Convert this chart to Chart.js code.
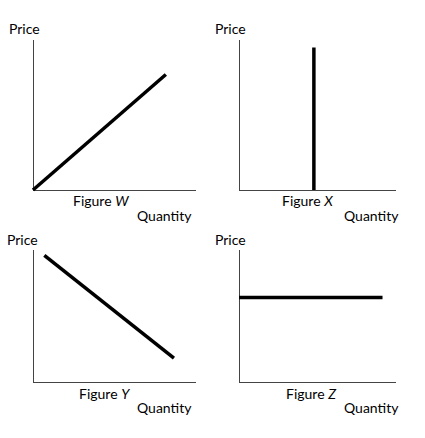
<!DOCTYPE html>
<html><head>
<script src="https://cdn.jsdelivr.net/npm/chart.js@4"></script>
<style>
body{margin:0;background:#fff;width:425px;height:438px;position:relative;font-family:Lato,"Open Sans",sans-serif;color:#000}
.c{position:absolute}
.t{position:absolute;font-size:14px;white-space:nowrap}
</style></head><body>
<div class="t" style="left:9px;top:20px">Price</div>
<div class="t" style="left:215px;top:20px">Price</div>
<div class="t" style="left:7px;top:231px">Price</div>
<div class="t" style="left:215px;top:231px">Price</div>
<div class="t" style="left:73px;top:192px">Figure <i>W</i></div>
<div class="t" style="left:282px;top:192px">Figure <i>X</i></div>
<div class="t" style="left:79px;top:385px">Figure <i>Y</i></div>
<div class="t" style="left:286px;top:385px">Figure <i>Z</i></div>
<div class="t" style="left:137px;top:207px">Quantity</div>
<div class="t" style="left:344px;top:207px">Quantity</div>
<div class="t" style="left:137px;top:399px">Quantity</div>
<div class="t" style="left:344px;top:399px">Quantity</div>
<script>
const P=4;
const panels=[
 {name:'W',left:33,top:40,w:162,h:150,xs:[0,8.2],ys:[0,7.7]},
 {name:'X',left:239,top:40,w:156,h:150,xs:[4.8,4.8],ys:[0,9.5]},
 {name:'Y',left:33,top:250,w:162,h:132,xs:[0.7,8.7],ys:[9.6,1.8]},
 {name:'Z',left:239,top:250,w:156,h:132,xs:[0,9.2],ys:[6.4,6.4]}
];
panels.forEach(p=>{
 const c=document.createElement('canvas');
 const d=document.createElement('div');d.className='c';
 d.style.left=(p.left-P)+'px';d.style.top=(p.top-P)+'px';
 d.style.width=(p.w+2*P)+'px';d.style.height=(p.h+2*P)+'px';
 d.appendChild(c);document.body.appendChild(d);
 const ax={display:true,min:0,max:10,grid:{display:false},ticks:{display:false},border:{display:true,color:'#444',width:1}};
 new Chart(c,{type:'scatter',data:{datasets:[{data:p.xs.map((x,i)=>({x,y:p.ys[i]})),showLine:true,borderColor:'#000',borderWidth:3.5,pointRadius:0,clip:false}]},
 options:{responsive:true,maintainAspectRatio:false,animation:false,layout:{padding:P},
 plugins:{legend:{display:false},tooltip:{enabled:false}},
 scales:{x:{...ax,ticks:{display:false,padding:0},afterFit:s=>{s.height=0}},y:{...ax,afterFit:s=>{s.width=0}}}}});
});
</script>
</body></html>
